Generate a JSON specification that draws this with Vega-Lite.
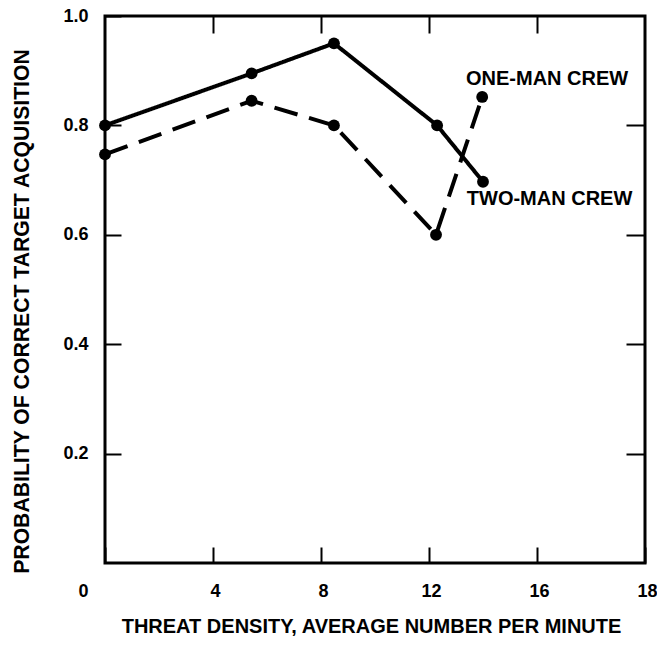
{
  "$schema": "https://vega.github.io/schema/vega-lite/v6.json",
  "width": 540,
  "height": 547,
  "autosize": "none",
  "padding": {"left": 105, "top": 16, "right": 12, "bottom": 82},
  "background": "white",
  "config": {
    "view": {"stroke": "black", "strokeWidth": 3},
    "font": "Liberation Sans"
  },
  "datasets": {
    "series": [
      {"crew": "Two-man crew", "density": 0, "prob": 0.80},
      {"crew": "Two-man crew", "density": 5.43, "prob": 0.895},
      {"crew": "Two-man crew", "density": 8.48, "prob": 0.95},
      {"crew": "Two-man crew", "density": 12.3, "prob": 0.80},
      {"crew": "Two-man crew", "density": 14.0, "prob": 0.697},
      {"crew": "One-man crew", "density": 0, "prob": 0.747},
      {"crew": "One-man crew", "density": 5.43, "prob": 0.845},
      {"crew": "One-man crew", "density": 8.48, "prob": 0.80},
      {"crew": "One-man crew", "density": 12.26, "prob": 0.60},
      {"crew": "One-man crew", "density": 13.97, "prob": 0.852}
    ],
    "labels": [
      {"text": "ONE-MAN CREW", "density": 13.37, "prob": 0.885},
      {"text": "TWO-MAN CREW", "density": 13.4, "prob": 0.665}
    ]
  },
  "resolve": {"axis": {"x": "independent", "y": "independent"}},
  "layer": [
    {
      "data": {"name": "series"},
      "mark": {"type": "line", "strokeWidth": 4, "color": "black"},
      "encoding": {
        "x": {
          "field": "density", "type": "quantitative",
          "scale": {"domain": [0, 20], "nice": false, "zero": false},
          "axis": {
            "orient": "bottom",
            "values": [0, 4, 8, 12, 16, 20],
            "format": "d",
            "labelExpr": "datum.value == 20 ? '18' : datum.label",
            "domain": false, "grid": false,
            "tickSize": -16, "tickWidth": 2, "tickColor": "black",
            "labelFontSize": 18, "labelFontWeight": "bold", "labelColor": "black",
            "labelPadding": 35, "labelFlush": false,
            "labelOffset": {"condition": {"test": "datum.value == 0", "value": -22}, "value": 2},
            "title": "THREAT DENSITY, AVERAGE NUMBER PER MINUTE",
            "titleFontSize": 20, "titleFontWeight": "bold", "titleColor": "black",
            "titleX": 266, "titleY": 69, "titleAlign": "center", "titleBaseline": "alphabetic"
          }
        },
        "y": {
          "field": "prob", "type": "quantitative",
          "scale": {"domain": [0, 1], "nice": false},
          "axis": {
            "orient": "left",
            "values": [0.2, 0.4, 0.6, 0.8, 1.0],
            "format": ".1f",
            "domain": false, "grid": false,
            "tickSize": -16, "tickWidth": 2, "tickColor": "black",
            "labelFontSize": 18, "labelFontWeight": "bold", "labelColor": "black",
            "labelPadding": 33,
            "title": "PROBABILITY OF CORRECT TARGET ACQUISITION",
            "titleFontSize": 21.2, "titleFontWeight": "bold", "titleColor": "black",
            "titleAngle": 270, "titleX": -83, "titleY": 295,
            "titleAlign": "center", "titleBaseline": "middle"
          }
        },
        "strokeDash": {
          "field": "crew", "type": "nominal",
          "scale": {"domain": ["Two-man crew", "One-man crew"], "range": [[1, 0], [24, 12]]},
          "legend": null
        }
      }
    },
    {
      "data": {"name": "series"},
      "mark": {"type": "point", "filled": true, "size": 140, "color": "black", "opacity": 1},
      "encoding": {
        "x": {
          "field": "density", "type": "quantitative",
          "axis": {
            "orient": "top", "values": [4, 8, 12, 16], "labels": false, "title": null,
            "domain": false, "grid": false,
            "tickSize": -17, "tickWidth": 2, "tickColor": "black"
          }
        },
        "y": {
          "field": "prob", "type": "quantitative",
          "axis": {
            "orient": "right", "values": [0.2, 0.4, 0.6, 0.8], "labels": false, "title": null,
            "domain": false, "grid": false,
            "tickSize": -19, "tickWidth": 2, "tickColor": "black"
          }
        },
        "detail": {"field": "crew", "type": "nominal"}
      }
    },
    {
      "data": {"name": "labels"},
      "mark": {"type": "text", "align": "left", "baseline": "middle", "fontSize": 20, "fontWeight": "bold", "color": "black"},
      "encoding": {
        "x": {"field": "density", "type": "quantitative", "axis": null},
        "y": {"field": "prob", "type": "quantitative", "axis": null},
        "text": {"field": "text", "type": "nominal"}
      }
    }
  ]
}
